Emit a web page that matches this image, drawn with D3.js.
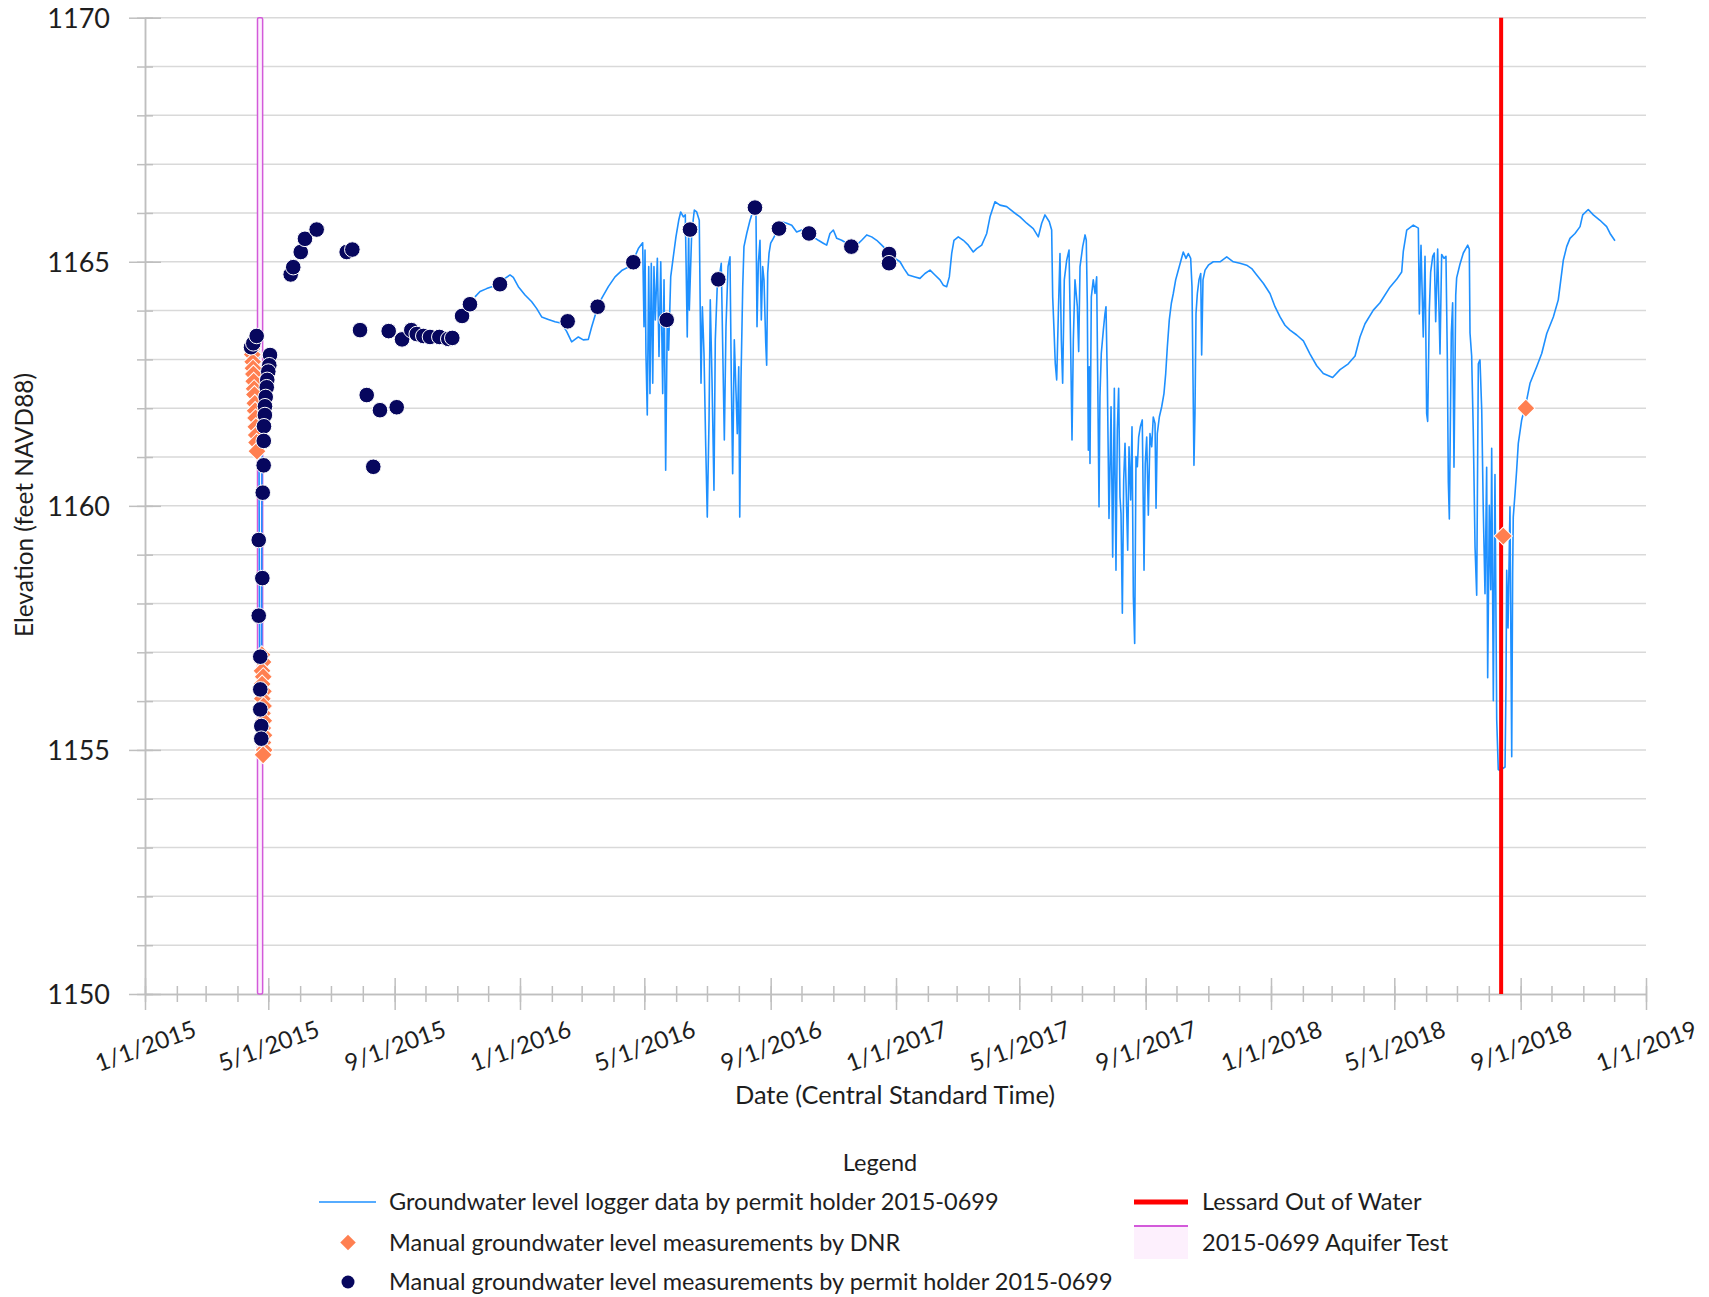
<!DOCTYPE html>
<html>
<head>
<meta charset="utf-8">
<script src="https://cdn.jsdelivr.net/npm/d3@7"></script>
<style>
  body { margin: 0; background: #fff; }
  text { font-family: Lato, "Open Sans", sans-serif; fill: #1e1e1e; }
</style>
</head>
<body>
<svg id="chart" width="1709" height="1297"></svg>
<script>
// dates are Excel serial numbers (42005 = 1/1/2015)
// logger record, null elevation = gap in the record
var loggerSerial = [
  42112, 42115.5, 42116, 42116.3, 42116.6, 42117, 42117.8, 42118.4, 42118.6, 42118.8, 42119.5, 42122, 42126, 42130,
  42200,
  42326.2, 42331.1, 42337.6, 42344.0, 42350.5, 42355.4, 42360.3, 42363.5, 42368.4, 42374.9,
  42381.4, 42386.3, 42391.1, 42397.6, 42404.1, 42410.6, 42415.5, 42420.3, 42426.8, 42431.6,
  42436.5, 42439.8, 42444.7, 42449.5, 42456.0, 42462.5, 42469.0, 42475.4, 42480.3, 42485.2,
  42489.4, 42490.7, 42491.7, 42492.6, 42493.9, 42495.3, 42496.5, 42497.8, 42499.2, 42500.4,
  42501.7, 42503.7, 42505.3, 42507.0, 42508.9, 42510.2, 42511.8, 42513.4, 42514.7, 42516.7,
  42519.2, 42521.8, 42524.5, 42526.4, 42529.0, 42530.9, 42532.8, 42534.2, 42534.8, 42537.1,
  42539.7, 42542.0, 42544.5, 42546.2, 42547.5, 42549.1, 42550.8, 42552.3, 42554.0, 42555.2,
  42556.9, 42558.8, 42560.1, 42562.1, 42564.0, 42565.9, 42567.3, 42568.9, 42570.5, 42572.5,
  42574.4, 42575.7, 42577.0, 42578.6, 42580.3, 42581.5, 42582.9, 42583.9, 42585.1, 42586.8,
  42588.0, 42590.7, 42593.9, 42596.5, 42598.7, 42599.7, 42600.7, 42602.0, 42603.6, 42604.9,
  42606.2, 42607.5, 42609.2, 42610.1, 42611.1, 42612.4, 42614.0, 42616.6, 42619.9, 42624.7,
  42629.6, 42634.5, 42639.3, 42644.2, 42649.1, 42655.5, 42660.4, 42665.2, 42668.5, 42671.7,
  42675.0, 42678.3, 42683.1, 42688.0, 42692.9, 42697.7, 42702.6, 42707.5, 42712.3, 42717.2,
  42722.1, 42726.9, 42731.8, 42735.0, 42739.9, 42743.8, 42748.0, 42754.5, 42759.3, 42764.2,
  42769.1, 42773.9, 42778.8, 42782.0, 42785.3, 42787.9, 42790.2, 42792.4, 42796.6, 42801.5,
  42806.4, 42811.2, 42814.5, 42819.4, 42824.3, 42827.5, 42832.3, 42837.2, 42843.7, 42850.2,
  42856.7, 42863.2, 42869.6, 42874.5, 42877.8, 42881.0, 42885.2, 42887.5, 42888.5, 42889.8,
  42891.0, 42892.4, 42894.0, 42895.6, 42896.9, 42898.2, 42899.8, 42902.1, 42904.4, 42906.0,
  42907.3, 42908.6, 42910.2, 42912.5, 42913.8, 42915.1, 42917.7, 42920.0, 42921.2, 42922.2,
  42923.2, 42924.1, 42924.8, 42926.1, 42928.0, 42929.7, 42931.3, 42932.3, 42933.6, 42934.5,
  42935.8, 42937.8, 42939.4, 42940.4, 42941.7, 42943.3, 42944.3, 42945.3, 42946.9, 42948.5,
  42950.1, 42951.4, 42952.7, 42954.0, 42955.0, 42956.3, 42957.6, 42958.9, 42960.2, 42961.5,
  42962.8, 42964.4, 42965.7, 42967.0, 42968.3, 42969.6, 42970.9, 42972.2, 42973.8, 42975.7,
  42977.4, 42978.6, 42980.0, 42981.6, 42983.2, 42984.9, 42986.4, 42988.1, 42989.1, 42990.3,
  42992.3, 42994.6, 42996.8, 42998.5, 43000.1, 43002.0, 43004.0, 43005.9, 43008.2, 43010.8,
  43013.4, 43015.6, 43018.3, 43020.5, 43022.8, 43024.1, 43025.1, 43026.0, 43027.0, 43028.0,
  43029.3, 43030.9, 43032.6, 43033.5, 43034.8, 43036.8, 43040.0, 43044.8, 43051.4, 43057.9,
  43064.3, 43070.8, 43077.3, 43082.2, 43087.1, 43093.5, 43100.0, 43104.9, 43109.8, 43114.6,
  43119.5, 43126.0, 43132.5, 43139.0, 43145.5, 43151.9, 43161.0, 43168.2, 43176.2, 43182.8,
  43187.6, 43192.5, 43200.6, 43207.1, 43216.8, 43223.3, 43228.2, 43229.8, 43233.1, 43239.5,
  43244.4, 43245.4, 43247.0, 43249.2, 43250.9, 43252.5, 43253.5, 43255.1, 43256.4, 43258.4,
  43259.9, 43261.3, 43263.2, 43265.5, 43267.1, 43269.4, 43271.3, 43272.6, 43273.6, 43274.6,
  43276.5, 43277.8, 43279.1, 43280.8, 43281.7, 43284.9, 43288.2, 43292.5, 43294.0, 43294.7,
  43296.3, 43297.9, 43299.6, 43301.2, 43302.8, 43304.4, 43306.1, 43307.6, 43309.3, 43310.9,
  43311.9, 43313.5, 43314.9, 43315.8, 43317.4, 43319.0, 43320.7, 43322.2, 43323.9, 43328.8,
  43329.7, 43330.4, 43331.7, 43333.6, 43335.3, 43336.2, 43336.8, 43338.5, 43340.1, 43341.7,
  43345.0, 43349.9, 43353.1, 43359.6, 43364.5, 43369.4, 43375.8, 43380.6, 43385.5, 43388.8,
  43392.0, 43396.9, 43401.8, 43404.4, 43409.8, 43414.7, 43421.2, 43427.7, 43431.0, 43435.8
];
var loggerElev = [
  1163.30, 1163.20, 1161.0, 1158.5, 1156.5, 1155.5, 1155.1, 1155.3, 1158.0, 1161.0, 1162.4, 1162.9, 1163.1, 1163.2,
  null,
  1164.28, 1164.39, 1164.45, 1164.50, 1164.55, 1164.66, 1164.73, 1164.68, 1164.49, 1164.32,
  1164.18, 1164.04, 1163.87, 1163.82, 1163.77, 1163.74, 1163.57, 1163.36, 1163.46, 1163.40,
  1163.41, 1163.67, 1164.01, 1164.25, 1164.49, 1164.69, 1164.82, 1164.89, 1165.03, 1165.27,
  1165.39, 1163.67, 1165.24, 1163.12, 1161.86, 1164.90, 1162.30, 1164.97, 1162.51, 1164.90,
  1163.81, 1165.07, 1163.06, 1165.00, 1162.30, 1164.63, 1160.73, 1163.94, 1163.19, 1164.69,
  1165.10, 1165.51, 1165.85, 1166.02, 1165.92, 1165.96, 1163.46, 1165.72, 1164.01, 1165.58,
  1166.06, 1166.02, 1165.85, 1162.51, 1164.08, 1163.12, 1161.21, 1159.77, 1161.76, 1164.22,
  1162.58, 1160.32, 1163.40, 1164.56, 1164.69, 1164.97, 1163.26, 1161.35, 1163.67, 1164.90,
  1165.10, 1162.58, 1160.66, 1163.40, 1162.30, 1161.48, 1162.85, 1159.77, 1162.58, 1164.49,
  1165.31, 1165.58, 1165.85, 1166.02, 1166.11, 1165.99, 1163.67, 1164.97, 1165.44, 1163.81,
  1164.90, 1164.63, 1163.33, 1162.88, 1164.77, 1165.17, 1165.38, 1165.48, 1165.61, 1165.82,
  1165.79, 1165.75, 1165.61, 1165.65, 1165.55, 1165.51, 1165.44, 1165.38, 1165.34, 1165.58,
  1165.65, 1165.48, 1165.44, 1165.38, 1165.31, 1165.34, 1165.44, 1165.55, 1165.51, 1165.44,
  1165.34, 1165.24, 1165.20, 1165.07, 1165.00, 1164.86, 1164.73, 1164.69, 1164.66, 1164.76,
  1164.83, 1164.73, 1164.63, 1164.52, 1164.49, 1164.69, 1165.17, 1165.44, 1165.51, 1165.44,
  1165.34, 1165.20, 1165.27, 1165.34, 1165.58, 1165.92, 1166.23, 1166.16, 1166.13, 1166.02,
  1165.92, 1165.79, 1165.68, 1165.51, 1165.79, 1165.96, 1165.82, 1165.65, 1164.28, 1163.60,
  1162.92, 1162.58, 1163.94, 1165.17, 1163.40, 1162.51, 1164.63, 1165.03, 1165.24, 1163.26,
  1161.35, 1163.40, 1164.63, 1164.08, 1163.16, 1164.90, 1165.31, 1165.55, 1165.44, 1164.15,
  1161.14, 1162.85, 1160.87, 1164.28, 1164.63, 1164.35, 1164.69, 1162.71, 1159.98, 1162.23,
  1163.12, 1163.60, 1163.94, 1164.08, 1162.58, 1159.74, 1160.80, 1162.03, 1158.95, 1162.41,
  1158.68, 1161.55, 1162.41, 1160.18, 1159.84, 1157.80, 1160.53, 1161.28, 1160.18, 1159.09,
  1161.21, 1160.12, 1161.62, 1158.14, 1157.18, 1161.01, 1160.80, 1161.41, 1161.62, 1161.76,
  1158.68, 1160.87, 1161.41, 1159.81, 1161.48, 1161.21, 1161.82, 1161.69, 1159.95, 1161.48,
  1161.82, 1162.03, 1162.30, 1162.71, 1163.26, 1163.81, 1164.15, 1164.35, 1164.63, 1164.83,
  1165.03, 1165.20, 1165.07, 1165.17, 1165.07, 1164.49, 1162.58, 1160.83, 1161.89, 1163.94,
  1164.35, 1164.63, 1164.76, 1163.09, 1164.63, 1164.83, 1164.93, 1165.00, 1165.00, 1165.10,
  1165.00, 1164.97, 1164.93, 1164.86, 1164.73, 1164.56, 1164.35, 1164.08, 1163.87, 1163.70,
  1163.60, 1163.50, 1163.38, 1163.11, 1162.87, 1162.71, 1162.63, 1162.79, 1162.91, 1163.07,
  1163.46, 1163.73, 1164.01, 1164.16, 1164.48, 1164.64, 1164.79, 1165.22, 1165.65, 1165.75,
  1165.69, 1163.93, 1165.34, 1163.46, 1165.11, 1161.89, 1161.73, 1164.01, 1164.79, 1165.11,
  1165.18, 1163.77, 1165.26, 1163.11, 1165.15, 1165.07, 1165.11, 1163.07, 1160.48, 1159.73,
  1163.54, 1164.16, 1160.79, 1164.32, 1164.67, 1164.95, 1165.18, 1165.34, 1165.26, 1163.54,
  1163.07, 1161.50, 1159.15, 1158.17, 1162.91, 1162.99, 1161.97, 1159.93, 1158.20, 1160.79,
  1156.48, 1160.01, 1158.28, 1161.18, 1156.01, 1160.64, 1155.62, 1154.60, 1154.58, 1154.65,
  1156.29, 1158.68, 1157.50, 1159.98, 1154.86, 1158.61, 1159.77, 1160.25, 1160.73, 1161.28,
  1161.76, 1162.17, 1162.51, 1162.85, 1163.12, 1163.53, 1163.87, 1164.22, 1165.03, 1165.31,
  1165.48, 1165.58, 1165.72, 1165.96, 1166.07, 1165.96, 1165.85, 1165.72, 1165.58, 1165.43
];

// manual measurements by DNR
var dnrSerial = [
  42109.1, 42109.4, 42109.8, 42110.1, 42110.5, 42110.8, 42111.2, 42111.5, 42111.9, 42112.2,
  42112.6, 42112.9, 42113.3, 42113.6, 42114.0,
  42118.8, 42119.9, 42118.9, 42120.1, 42119.0, 42120.3, 42119.2, 42120.4, 42119.4, 42120.6,
  42119.6, 42120.8, 42119.8, 42121.0, 42120.0,
  43327.1, 43349.0
];
var dnrElev = [
  1163.22, 1163.10, 1162.95, 1162.82, 1162.70, 1162.55, 1162.40, 1162.28, 1162.10, 1161.95,
  1161.80, 1161.62, 1161.45, 1161.30, 1161.12,
  1156.95, 1156.80, 1156.62, 1156.50, 1156.35, 1156.20, 1156.05, 1155.90, 1155.75, 1155.60,
  1155.45, 1155.30, 1155.15, 1155.00, 1154.90,
  1159.38, 1162.00
];

// manual measurements by permit holder 2015-0699
var permitSerial = [
  42108.2, 42110.4, 42113.7, 42126.7, 42126.0, 42125.0, 42124.0, 42123.5, 42122.5, 42121.8,
  42121.7, 42120.8, 42120.6, 42120.5, 42119.6, 42115.7, 42119.2, 42115.7, 42117.2, 42117.2,
  42117.2, 42118.2, 42118.2,
  42146.8, 42149.3, 42156.6, 42160.7, 42172.1, 42201.3, 42206.8, 42214.3, 42220.8, 42227.2,
  42233.7, 42242.2, 42250.0, 42255.2, 42264.2, 42269.5, 42275.9, 42282.4, 42291.5, 42300.2,
  42304.1, 42313.6, 42321.3, 42350.5, 42416.4, 42445.6, 42480.3, 42512.8, 42535.5, 42563.0,
  42598.7, 42622.1, 42651.3, 42692.5, 42729.2, 42729.2
];
var permitElev = [
  1163.25, 1163.33, 1163.48, 1163.09, 1162.88, 1162.75, 1162.58, 1162.43, 1162.23, 1162.04,
  1161.86, 1161.63, 1161.33, 1160.83, 1160.27, 1159.30, 1158.52, 1157.75, 1156.91, 1156.24,
  1155.83, 1155.49, 1155.23,
  1164.74, 1164.89, 1165.20, 1165.47, 1165.66, 1165.20, 1165.25, 1163.60, 1162.27, 1160.80,
  1161.96, 1163.58, 1162.02, 1163.41, 1163.60, 1163.52, 1163.48, 1163.46, 1163.46, 1163.42,
  1163.44, 1163.89, 1164.13, 1164.54, 1163.78, 1164.08, 1164.99, 1163.81, 1165.66, 1164.64,
  1166.11, 1165.68, 1165.58, 1165.31, 1165.16, 1164.97
];

var lessardSerial = 43325;            // Lessard out of water
var aquiferTest = [42114.5, 42119.5]; // 2015-0699 aquifer test window

var yDomain = [1150, 1170];
var xDomain = [new Date(Date.UTC(2015, 0, 1)), new Date(Date.UTC(2019, 0, 1))];

var legendLabels = [
  "Groundwater level logger data by permit holder 2015-0699",
  "Manual groundwater level measurements by DNR",
  "Manual groundwater level measurements by permit holder 2015-0699",
  "Lessard Out of Water",
  "2015-0699 Aquifer Test"
];

function fromSerial(s) {
  return new Date(Date.UTC(1899, 11, 30) + s * 864e5);
}

var svg = d3.select("#chart");
var plot = {left: 145, right: 1646, top: 17.7, bottom: 994};

var x = d3.scaleUtc().domain(xDomain).range([plot.left, plot.right]);
var y = d3.scaleLinear().domain(yDomain).range([plot.bottom, plot.top]);

var logger = loggerSerial.map(function(s, i) { return {t: fromSerial(s), v: loggerElev[i]}; });
var dnr = dnrSerial.map(function(s, i) { return {t: fromSerial(s), v: dnrElev[i]}; });
var permit = permitSerial.map(function(s, i) { return {t: fromSerial(s), v: permitElev[i]}; });

// gridlines every foot
svg.append("g").selectAll("line")
  .data(d3.range(yDomain[0] + 1, yDomain[1] + 1))
  .enter().append("line")
  .attr("x1", plot.left).attr("x2", plot.right)
  .attr("y1", function(d) { return y(d); })
  .attr("y2", function(d) { return y(d); })
  .attr("stroke", "#d9d9d9").attr("stroke-width", 1.5);

// y axis
var yMinor = svg.append("g").attr("transform", "translate(" + plot.left + ",0)")
  .call(d3.axisLeft(y).tickValues(d3.range(1150, 1171, 1)).tickFormat("").tickSizeOuter(0));
yMinor.selectAll(".tick line").attr("x1", -8).attr("x2", 8);
var yMajor = svg.append("g").attr("transform", "translate(" + plot.left + ",0)")
  .call(d3.axisLeft(y).tickValues(d3.range(1150, 1171, 5)).tickFormat(d3.format("d")).tickSizeOuter(0));
yMajor.selectAll(".tick line").attr("x1", -16).attr("x2", 16);
yMajor.selectAll(".tick text").attr("x", -35).attr("dy", "0.35em")
  .style("font-size", "27px").style("font-family", "Lato, sans-serif").attr("fill", "#1e1e1e");

// x axis
var xMinor = svg.append("g").attr("transform", "translate(0," + plot.bottom + ")")
  .call(d3.axisBottom(x).ticks(d3.utcMonth.every(1)).tickFormat("").tickSizeOuter(0));
xMinor.selectAll(".tick line").attr("y1", -8).attr("y2", 8);
var xMajor = svg.append("g").attr("transform", "translate(0," + plot.bottom + ")")
  .call(d3.axisBottom(x).ticks(d3.utcMonth.every(4)).tickFormat(d3.utcFormat("%-m/%-d/%Y")).tickSizeOuter(0));
xMajor.selectAll(".tick line").attr("y1", -16).attr("y2", 16);
xMajor.selectAll(".tick text")
  .attr("y", 0).attr("dy", "0.35em")
  .attr("transform", "translate(0,52) rotate(-20)")
  .style("text-anchor", "middle")
  .style("font-size", "24px").style("font-family", "Lato, sans-serif").attr("fill", "#1e1e1e");

svg.selectAll(".domain, .tick line").attr("stroke", "#bfbfbf").attr("stroke-width", 1.5);

// aquifer test window
svg.append("rect")
  .attr("x", x(fromSerial(aquiferTest[0])))
  .attr("y", y(yDomain[1]))
  .attr("width", x(fromSerial(aquiferTest[1])) - x(fromSerial(aquiferTest[0])))
  .attr("height", y(yDomain[0]) - y(yDomain[1]))
  .attr("rx", 1.5)
  .attr("fill", "#fdf0fd").attr("stroke", "#d35ada").attr("stroke-width", 1.5);

// logger line
var line = d3.line()
  .defined(function(d) { return d.v != null; })
  .x(function(d) { return x(d.t); })
  .y(function(d) { return y(d.v); });
svg.append("path").datum(logger)
  .attr("d", line)
  .attr("fill", "none").attr("stroke", "#1e90ff").attr("stroke-width", 1.6)
  .attr("stroke-linejoin", "round");

// Lessard out of water
svg.append("line")
  .attr("x1", x(fromSerial(lessardSerial))).attr("x2", x(fromSerial(lessardSerial)))
  .attr("y1", y(yDomain[1])).attr("y2", y(yDomain[0]))
  .attr("stroke", "#ff0000").attr("stroke-width", 4);

// DNR diamonds
var diamond = d3.symbol().type(d3.symbolSquare).size(165);
svg.append("g").selectAll("path").data(dnr).enter().append("path")
  .attr("d", diamond)
  .attr("transform", function(d) { return "translate(" + x(d.t) + "," + y(d.v) + ") rotate(45)"; })
  .attr("fill", "#ff7f50").attr("stroke", "#fff").attr("stroke-width", 1);

// permit holder dots
svg.append("g").selectAll("circle").data(permit).enter().append("circle")
  .attr("cx", function(d) { return x(d.t); })
  .attr("cy", function(d) { return y(d.v); })
  .attr("r", 7.8)
  .attr("fill", "#07075e").attr("stroke", "#fff").attr("stroke-width", 1);

// axis titles
svg.append("text")
  .attr("transform", "translate(24,505) rotate(-90)")
  .attr("text-anchor", "middle").attr("dy", "0.35em")
  .style("font-size", "24.4px")
  .text("Elevation (feet NAVD88)");
svg.append("text")
  .attr("x", 895).attr("y", 1095)
  .attr("text-anchor", "middle").attr("dy", "0.35em")
  .style("font-size", "25.4px")
  .text("Date (Central Standard Time)");

// legend
var lg = svg.append("g").style("font-size", "23.5px");
lg.append("text").attr("x", 880).attr("y", 1163).attr("text-anchor", "middle").attr("dy", "0.35em").text("Legend");

var rowY = [1202, 1242.5, 1282];
lg.append("line").attr("x1", 319).attr("x2", 376).attr("y1", rowY[0]).attr("y2", rowY[0])
  .attr("stroke", "#1e90ff").attr("stroke-width", 1.6);
lg.append("path").attr("d", d3.symbol().type(d3.symbolSquare).size(120))
  .attr("transform", "translate(348," + rowY[1] + ") rotate(45)")
  .attr("fill", "#ff7f50");
lg.append("circle").attr("cx", 348).attr("cy", rowY[2]).attr("r", 6.5).attr("fill", "#07075e");
lg.append("line").attr("x1", 1134).attr("x2", 1188).attr("y1", rowY[0]).attr("y2", rowY[0])
  .attr("stroke", "#ff0000").attr("stroke-width", 5);
lg.append("rect").attr("x", 1134).attr("y", 1226).attr("width", 54).attr("height", 33)
  .attr("fill", "#fdf0fd");
lg.append("line").attr("x1", 1134).attr("x2", 1188).attr("y1", 1226).attr("y2", 1226)
  .attr("stroke", "#d35ada").attr("stroke-width", 2);

lg.selectAll("text.item").data(legendLabels).enter().append("text")
  .attr("class", "item")
  .attr("x", function(d, i) { return i < 3 ? 389 : 1202; })
  .attr("y", function(d, i) { return i < 3 ? rowY[i] : rowY[i - 3]; })
  .attr("dy", "0.35em")
  .text(function(d) { return d; });
</script>
</body>
</html>
